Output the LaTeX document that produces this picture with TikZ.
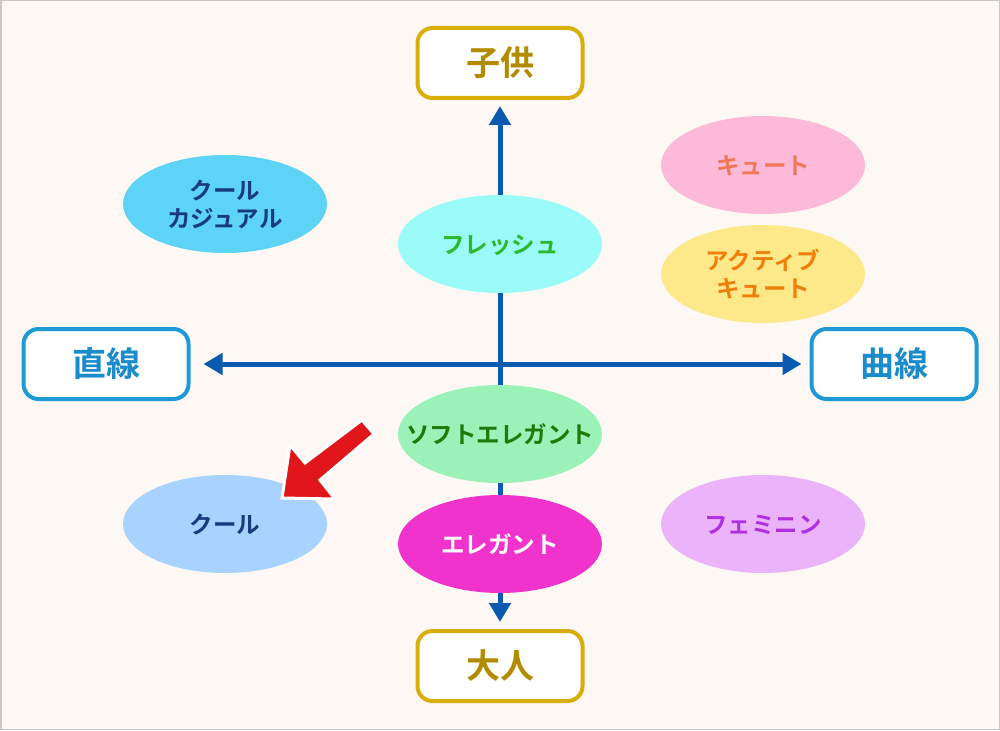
\documentclass[tikz,border=0pt]{standalone}
\usepackage{fontspec}
\setmainfont{Noto Sans CJK JP}[BoldFont={Noto Sans CJK JP Bold}]
\usetikzlibrary{shapes.geometric,arrows.meta}
\definecolor{bgc}{HTML}{FDF8F4}
\definecolor{framec}{HTML}{C8C8C8}
\definecolor{goldb}{HTML}{D9AE0A}
\definecolor{goldt}{HTML}{B28C00}
\definecolor{blueb}{HTML}{1E9BD7}
\definecolor{bluet}{HTML}{1B8CCB}
\definecolor{axisc}{HTML}{0A5AB0}
\definecolor{navy}{HTML}{1A3A80}
\definecolor{redarrow}{HTML}{E0161A}
\definecolor{ccfill}{HTML}{5DD3F5}
\definecolor{frfill}{HTML}{9AFBF8}
\definecolor{frtext}{HTML}{2DB82D}
\definecolor{cufill}{HTML}{FDBAD8}
\definecolor{cutext}{HTML}{F0785A}
\definecolor{acfill}{HTML}{FDE88A}
\definecolor{actext}{HTML}{F07F0A}
\definecolor{sefill}{HTML}{9AF2B8}
\definecolor{setext}{HTML}{1E7A0A}
\definecolor{cofill}{HTML}{A8D2FF}
\definecolor{elfill}{HTML}{F033CC}
\definecolor{fefill}{HTML}{EBB4FA}
\definecolor{fetext}{HTML}{B030E0}
\newcommand{\ovtext}[1]{\makebox[0pt]{\raisebox{-10pt}[0pt][0pt]{\begin{tabular}{@{}c@{}}#1\end{tabular}}}}
\tikzset{
  axbox/.style={draw=#1, line width=4pt, rounded corners=15pt, fill=white,
    minimum width=165pt, minimum height=70pt, inner sep=0pt, font=\bfseries\fontsize{34}{38}\selectfont},
  oval/.style={ellipse, minimum width=204pt, minimum height=98pt, inner sep=0pt,
    align=center, font=\bfseries\fontsize{23.5}{28}\selectfont},
  axisline/.style={draw=axisc, line width=5pt, {Triangle[length=19pt,width=21pt]}-{Triangle[length=19pt,width=21pt]}},
}
\begin{document}
\begin{tikzpicture}[x=1pt,y=-1pt]
\useasboundingbox (0,0) rectangle (1000,730);
\fill[bgc] (0,0) rectangle (1000,730);
\draw[framec, line width=1.5pt] (0.75,0.75) rectangle (999.25,729.25);
% axis boxes
\node[axbox=goldb, text=goldt] (kodomo) at (500,63) {子供};
\node[axbox=goldb, text=goldt] (otona) at (500,666) {大人};
\node[axbox=blueb, text=bluet] (chokusen) at (106,364) {直線};
\node[axbox=blueb, text=bluet] (kyokusen) at (894,364) {曲線};
% axes
\draw[axisline, shorten <=6pt, shorten >=7pt] (kodomo.south) -- (otona.north);
\draw[axisline, shorten <=13pt, shorten >=8pt] (chokusen.east) -- (kyokusen.west);
% ovals
\node[oval, fill=ccfill, text=navy] (coolcasual) at (225,204) {\ovtext{クール\\カジュアル}};
\node[oval, fill=frfill, text=frtext] (fresh) at (500,244) {\ovtext{フレッシュ}};
\node[oval, fill=cufill, text=cutext] (cute) at (763,165) {\ovtext{キュート}};
\node[oval, fill=acfill, text=actext] (activecute) at (763,274) {\ovtext{アクティブ\\キュート}};
\node[oval, fill=sefill, text=setext] (softelegant) at (500,434) {\ovtext{ソフトエレガント}};
\node[oval, fill=cofill, text=navy] (cool) at (225,524) {\ovtext{クール}};
\node[oval, fill=elfill, text=white] (elegant) at (500,544) {\ovtext{エレガント}};
\node[oval, fill=fefill, text=fetext] (feminine) at (763,524) {\ovtext{フェミニン}};
% red arrow
\filldraw[fill=redarrow, draw=white, line width=3pt, line join=miter]
  (282,498) -- (290,445) -- (305,463) -- (362,420) -- (374,434) -- (320,480) -- (335,499) -- cycle;
\end{tikzpicture}
\end{document}
